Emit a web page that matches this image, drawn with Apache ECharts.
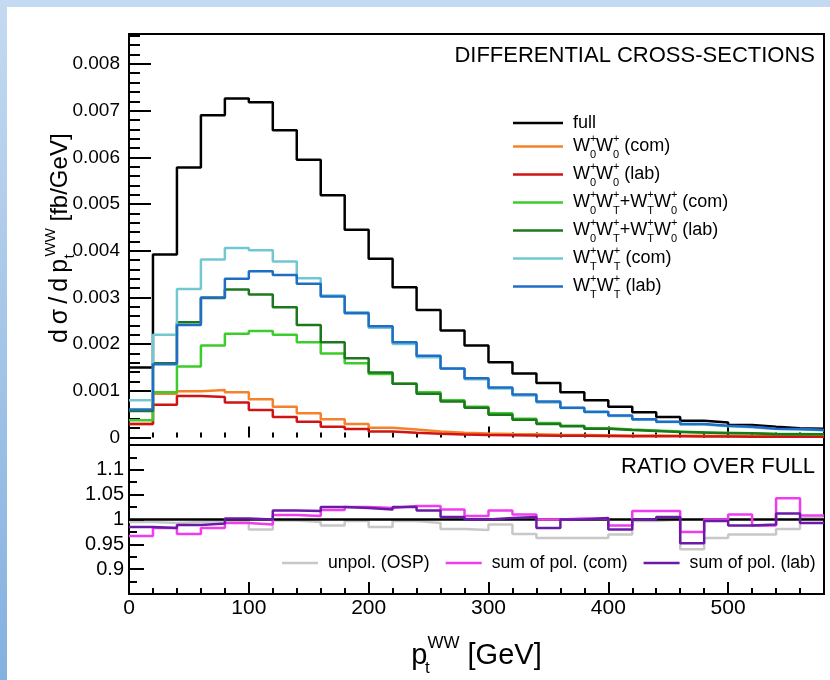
<!DOCTYPE html>
<html>
<head>
<meta charset="utf-8">
<script src="https://cdn.jsdelivr.net/npm/echarts@6/dist/echarts.min.js"></script>
<style>
html, body { margin: 0; padding: 0; background: #fff; }
#topbar { position: absolute; left: 0; top: 0; width: 830px; height: 7px; background: #c4daf0; }
#leftbar { position: absolute; left: 0; top: 0; width: 7px; height: 680px; background: linear-gradient(#c4daf0, #84b1df); }
#chart { position: absolute; left: 0; top: 0; width: 830px; height: 680px; }
</style>
</head>
<body>
<div id="topbar"></div>
<div id="leftbar"></div>
<div id="chart"></div>
<script>
// bins of pt(WW), 20 GeV wide
var binLow = [0, 20, 40, 60, 80, 100, 120, 140, 160, 180, 200, 220, 240, 260, 280,
              300, 320, 340, 360, 380, 400, 420, 440, 460, 480, 500, 520, 540, 560];
var binHigh = 580;

// differential cross-sections [fb/GeV]
var full     = [0.00150, 0.00392, 0.00578, 0.00690, 0.00726, 0.00718, 0.00658, 0.00595, 0.00519, 0.00445, 0.00383, 0.00322, 0.00273, 0.00229, 0.00197,
                0.00161, 0.00137, 0.00117, 0.00097, 0.00080, 0.00066, 0.00054, 0.00044, 0.00036, 0.00032, 0.00027, 0.00023, 0.00020, 0.00019];
var w00com   = [0.00029, 0.00094, 0.00099, 0.00102, 0.00097, 0.00082, 0.00066, 0.00052, 0.00039, 0.00029, 0.00021, 0.00017, 0.00013, 0.00010, 0.000085,
                0.000075, 0.000068, 0.000060, 0.000055, 0.000050, 0.000045, 0.000042, 0.000040, 0.000037, 0.000034, 0.000032, 0.000030, 0.000028, 0.000026];
var w00lab   = [0.00029, 0.00070, 0.00089, 0.00087, 0.00075, 0.00059, 0.00044, 0.00034, 0.00023, 0.00018, 0.00013, 0.00010, 0.00008, 0.000065, 0.000055,
                0.000050, 0.000045, 0.000040, 0.000036, 0.000033, 0.000030, 0.000027, 0.000025, 0.000023, 0.000021, 0.000019, 0.000018, 0.000017, 0.000016];
var w0Tcom   = [0.00037, 0.00097, 0.00152, 0.00197, 0.00222, 0.00228, 0.00220, 0.00204, 0.00180, 0.00159, 0.00136, 0.00115, 0.00097, 0.00080, 0.00066,
                0.00052, 0.00040, 0.00031, 0.00025, 0.00020, 0.00017, 0.00015, 0.00013, 0.00011, 0.00010, 0.00009, 0.00008, 0.000075, 0.00007];
var w0Tlab   = [0.00057, 0.00159, 0.00247, 0.00299, 0.00317, 0.00306, 0.00279, 0.00241, 0.00204, 0.00170, 0.00139, 0.00115, 0.00094, 0.00077, 0.00064,
                0.00049, 0.00038, 0.00029, 0.00024, 0.00019, 0.00016, 0.00014, 0.00012, 0.00011, 0.00009, 0.00009, 0.00007, 0.00007, 0.00007];
var wTTcom   = [0.00080, 0.00220, 0.00318, 0.00381, 0.00406, 0.00401, 0.00377, 0.00341, 0.00304, 0.00268, 0.00235, 0.00200, 0.00172, 0.00147, 0.00125,
                0.00105, 0.00090, 0.00075, 0.00063, 0.00054, 0.00046, 0.00038, 0.00033, 0.00028, 0.00024, 0.00022, 0.00018, 0.00017, 0.000155];
var wTTlab   = [0.00060, 0.00157, 0.00241, 0.00300, 0.00340, 0.00356, 0.00348, 0.00329, 0.00302, 0.00266, 0.00238, 0.00204, 0.00175, 0.00148, 0.00127,
                0.00107, 0.00092, 0.00077, 0.00064, 0.00055, 0.00047, 0.00039, 0.00034, 0.00029, 0.00025, 0.00023, 0.00019, 0.00018, 0.00016];

// ratios over full
var ratioFull = [1, 1, 1, 1, 1, 1, 1, 1, 1, 1, 1, 1, 1, 1, 1,
                 1, 1, 1, 1, 1, 1, 1, 1, 1, 1, 1, 1, 1, 1];
var ratioOSP  = [0.995, 0.993, 0.995, 0.997, 0.997, 0.980, 0.998, 0.995, 0.988, 0.997, 0.985, 0.997, 0.993, 0.981, 0.979,
                 0.990, 0.971, 0.963, 0.963, 0.963, 0.970, 0.997, 1.000, 0.940, 0.963, 0.970, 0.970, 0.981, 1.003];
var ratioCom  = [0.967, 0.983, 0.971, 0.983, 0.993, 0.990, 1.009, 1.007, 1.019, 1.025, 1.023, 1.027, 1.027, 1.020, 1.007,
                 1.018, 1.010, 1.000, 1.002, 1.002, 0.988, 1.017, 1.017, 0.975, 1.000, 1.010, 0.988, 1.043, 1.008];
var ratioLab  = [0.985, 0.983, 0.989, 0.992, 1.002, 1.000, 1.018, 1.017, 1.025, 1.023, 1.020, 1.025, 1.018, 1.005, 1.000,
                 1.003, 1.005, 0.983, 1.000, 1.003, 0.980, 1.000, 1.005, 0.952, 0.997, 0.988, 0.990, 1.012, 0.993];

var FONT = '"Liberation Sans", Arial, Helvetica, sans-serif';

function hist(vals) {
  var pts = [];
  for (var i = 0; i < vals.length; i++) pts.push([binLow[i], vals[i]]);
  pts.push([binHigh, vals[vals.length - 1]]);
  return pts;
}

function histSeries(name, vals, color, xi, yi, z) {
  return {
    name: name, type: 'line', step: 'end', data: hist(vals),
    xAxisIndex: xi, yAxisIndex: yi, symbol: 'none', silent: true, z: z,
    lineStyle: { color: color, width: 2.5 }, itemStyle: { color: color }
  };
}

// legend labels with stacked super/subscripts
var legendText = {
  'full': '{m|full}',
  'W0W0 (com)': '{m|W}{up|+}{dn|0}{m|W}{up|+}{dn|0}{m| (com)}',
  'W0W0 (lab)': '{m|W}{up|+}{dn|0}{m|W}{up|+}{dn|0}{m| (lab)}',
  'W0WT (com)': '{m|W}{up|+}{dn|0}{m|W}{up|+}{dn|T}{m|+W}{up|+}{dn|T}{m|W}{up|+}{dn|0}{m| (com)}',
  'W0WT (lab)': '{m|W}{up|+}{dn|0}{m|W}{up|+}{dn|T}{m|+W}{up|+}{dn|T}{m|W}{up|+}{dn|0}{m| (lab)}',
  'WTWT (com)': '{m|W}{up|+}{dn|T}{m|W}{up|+}{dn|T}{m| (com)}',
  'WTWT (lab)': '{m|W}{up|+}{dn|T}{m|W}{up|+}{dn|T}{m| (lab)}'
};

var tick = { color: '#000', width: 2 };

var myChart = echarts.init(document.getElementById('chart'));
var option = {
  animation: false,
  backgroundColor: 'transparent',
  grid: [
    { left: 129, right: 6, top: 34, height: 411, show: true, borderColor: '#000', borderWidth: 2, backgroundColor: 'transparent' },
    { left: 129, right: 6, top: 445, height: 149, show: true, borderColor: '#000', borderWidth: 2, backgroundColor: 'transparent' }
  ],
  xAxis: [
    { gridIndex: 0, type: 'value', position: 'bottom', offset: 0, min: 0, max: 580, interval: 100,
      axisLine: { show: false }, axisTick: { inside: true, length: 11, lineStyle: tick },
      axisLabel: { show: false }, splitLine: { show: false } },
    { gridIndex: 0, type: 'value', position: 'bottom', offset: 0, min: 0, max: 580, interval: 20,
      axisLine: { show: false }, axisTick: { inside: true, length: 5, lineStyle: tick },
      axisLabel: { show: false }, splitLine: { show: false } },
    { gridIndex: 1, type: 'value', position: 'bottom', offset: 0, min: 0, max: 580, interval: 100,
      axisLine: { show: false }, axisTick: { inside: true, length: 12, lineStyle: tick },
      axisLabel: { fontSize: 21, fontFamily: FONT, color: '#000', margin: 4, showMaxLabel: false },
      splitLine: { show: false },
      name: '{m|p}{dn|t}{up|WW}{m| [GeV]}', nameLocation: 'middle', nameGap: 41, nameMoveOverlap: false,
      nameTextStyle: { rich: {
        m: { fontSize: 29, fontFamily: FONT, color: '#000', lineHeight: 42 },
        up: { fontSize: 17, fontFamily: FONT, color: '#000', lineHeight: 19, verticalAlign: 'top' },
        dn: { fontSize: 17, fontFamily: FONT, color: '#000', lineHeight: 19, verticalAlign: 'bottom', width: 0 }
      } } },
    { gridIndex: 1, type: 'value', position: 'bottom', offset: 0, min: 0, max: 580, interval: 20,
      axisLine: { show: false }, axisTick: { inside: true, length: 6, lineStyle: tick },
      axisLabel: { show: false }, splitLine: { show: false } }
  ],
  yAxis: [
    { gridIndex: 0, type: 'value', position: 'left', offset: 0, min: -0.00016, max: 0.00864,
      minInterval: 0.001, maxInterval: 0.001,
      axisLine: { show: false }, axisTick: { inside: true, length: 22, lineStyle: tick },
      axisLabel: { fontSize: 19, fontFamily: FONT, color: '#000', margin: 9, showMinLabel: false, showMaxLabel: false },
      splitLine: { show: false },
      name: '{w|d}{w|σ}{w|/}{w|d}{w|p}{dn|t}{up|WW}{m| [fb/GeV]}', nameLocation: 'middle', nameGap: 52, nameMoveOverlap: false,
      nameTextStyle: { rich: {
        m: { fontSize: 24, fontFamily: FONT, color: '#000', lineHeight: 34 },
        w: { fontSize: 25, fontFamily: FONT, color: '#000', lineHeight: 34, padding: [0, 2.5, 0, 2.5] },
        up: { fontSize: 15, fontFamily: FONT, color: '#000', lineHeight: 16, verticalAlign: 'top' },
        dn: { fontSize: 15, fontFamily: FONT, color: '#000', lineHeight: 16, verticalAlign: 'bottom', width: 0 }
      } } },
    { gridIndex: 0, type: 'value', position: 'left', offset: 0, min: -0.00016, max: 0.00864,
      minInterval: 0.0002, maxInterval: 0.0002,
      axisLine: { show: false }, axisTick: { inside: true, length: 11, lineStyle: tick },
      axisLabel: { show: false }, splitLine: { show: false } },
    { gridIndex: 1, type: 'value', position: 'left', offset: 0, min: 0.85, max: 1.15, interval: 0.05,
      axisLine: { show: false }, axisTick: { inside: true, length: 15, lineStyle: tick },
      minorTick: { show: true, splitNumber: 2, length: 8, lineStyle: tick },
      axisLabel: { fontSize: 20, fontFamily: FONT, color: '#000', margin: 5, showMinLabel: false, showMaxLabel: false },
      splitLine: { show: false } }
  ],
  legend: [
    { left: 513, top: 114, padding: 0, orient: 'vertical', icon: 'rect', itemWidth: 50, itemHeight: 2.5, itemGap: 1,
      selectedMode: false,
      data: ['full', 'W0W0 (com)', 'W0W0 (lab)', 'W0WT (com)', 'W0WT (lab)', 'WTWT (com)', 'WTWT (lab)'],
      formatter: function (name) { return legendText[name]; },
      textStyle: { padding: [0, 0, 0, 5], rich: {
        m: { fontSize: 18, fontFamily: FONT, color: '#000', lineHeight: 27 },
        up: { fontSize: 11, fontFamily: FONT, color: '#000', lineHeight: 12, verticalAlign: 'top', width: 0 },
        dn: { fontSize: 11, fontFamily: FONT, color: '#000', lineHeight: 12, verticalAlign: 'bottom' }
      } } },
    { left: 282, top: 553, padding: 0, orient: 'horizontal', icon: 'rect', itemWidth: 36, itemHeight: 2.5, itemGap: 16,
      selectedMode: false,
      data: ['unpol. (OSP)', 'sum of pol. (com)', 'sum of pol. (lab)'],
      textStyle: { fontSize: 17.6, fontFamily: FONT, color: '#000', lineHeight: 20, padding: [0, 0, 0, 5] } }
  ],
  graphic: [
    { type: 'text', right: 15, top: 45, style: { text: 'DIFFERENTIAL CROSS-SECTIONS', font: '22px ' + FONT, fill: '#000' } },
    { type: 'text', right: 15, top: 456, style: { text: 'RATIO OVER FULL', font: '22px ' + FONT, fill: '#000' } }
  ],
  series: [
    histSeries('full', full, '#000000', 0, 0, 2),
    histSeries('W0W0 (com)', w00com, '#f5822a', 0, 0, 2),
    histSeries('W0W0 (lab)', w00lab, '#d01414', 0, 0, 2),
    histSeries('W0WT (com)', w0Tcom, '#3ccc2c', 0, 0, 2),
    histSeries('W0WT (lab)', w0Tlab, '#1c781c', 0, 0, 2),
    histSeries('WTWT (com)', wTTcom, '#72c8d2', 0, 0, 2),
    histSeries('WTWT (lab)', wTTlab, '#1f6ec6', 0, 0, 2),
    histSeries('unpol. (OSP)', ratioOSP, '#c8c8c8', 2, 2, 2),
    histSeries('full ratio', ratioFull, '#000000', 2, 2, 3),
    histSeries('sum of pol. (com)', ratioCom, '#f03cf0', 2, 2, 4),
    histSeries('sum of pol. (lab)', ratioLab, '#6a1aa6', 2, 2, 5)
  ]
};
myChart.setOption(option);
</script>
</body>
</html>
